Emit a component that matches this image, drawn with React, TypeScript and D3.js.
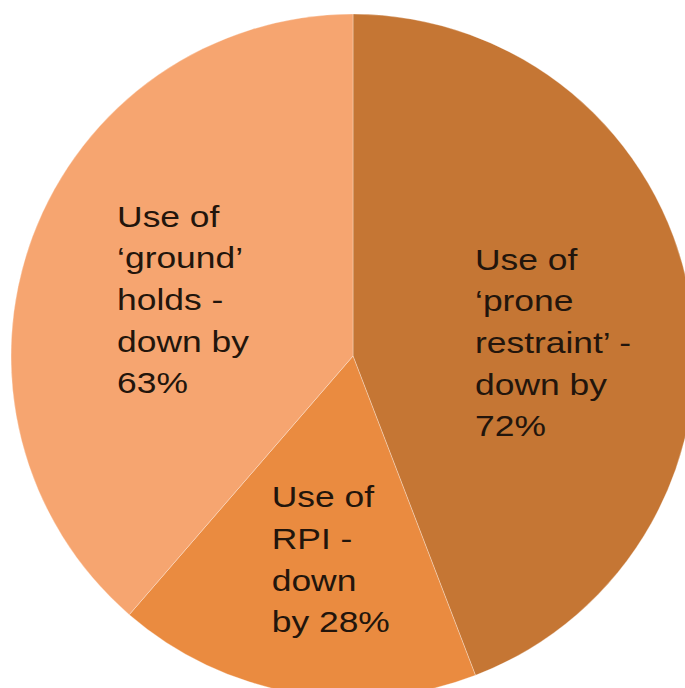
import React from "react";
import * as d3 from "d3";

const categories = ["prone restraint", "RPI", "ground holds"];
const values = [72, 28, 63];
const colors = ["#C57634", "#EA8B40", "#F6A570"];
const labelLines = [
  ["Use of", "\u2018prone", "restraint\u2019 -", "down by", "72%"],
  ["Use of", "RPI -", "down", "by 28%"],
  ["Use of", "\u2018ground\u2019", "holds -", "down by", "63%"],
];

const W = 685;
const H = 688;
const CX = 353;
const CY = 356;
const R = 342;
const labelOffsets = [
  [-73, -50],
  [-47, -44],
  [-50, -60],
];

export default function App() {
  const data = categories.map((c, i) => ({ c, v: values[i], i }));
  const pie = d3.pie<any>().value((d) => d.v).sort(null).startAngle(0).endAngle(2 * Math.PI);
  const arcs = pie(data);
  const arc = d3.arc<any>().innerRadius(0).outerRadius(R);
  const labelArc = d3.arc<any>().innerRadius(R * 0.58).outerRadius(R * 0.58);
  return (
    <svg
      width={W}
      height={H}
      style={{ position: "absolute", left: 0, top: 0, background: "#fff" }}
    >
      <g transform={`translate(${CX},${CY})`}>
        {arcs.map((a, i) => (
          <path
            key={i}
            d={arc(a) as string}
            fill={colors[i]}
            stroke="#ffffff"
            strokeOpacity={0.3}
            strokeWidth={1}
          />
        ))}
        {arcs.map((a, i) => {
          const [x, y] = labelArc.centroid(a);
          const [dx, dy] = labelOffsets[i];
          return (
            <text
              key={"t" + i}
              transform={`translate(${x + dx},${y + dy}) scale(1.18,1)`}
              fontFamily="'Liberation Sans', Arial, sans-serif"
              fontSize={30}
              fill="#22150c"
            >
              {labelLines[i].map((l, j) => (
                <tspan key={j} x={0} dy={j === 0 ? 0 : 41.6}>
                  {l}
                </tspan>
              ))}
            </text>
          );
        })}
      </g>
    </svg>
  );
}
